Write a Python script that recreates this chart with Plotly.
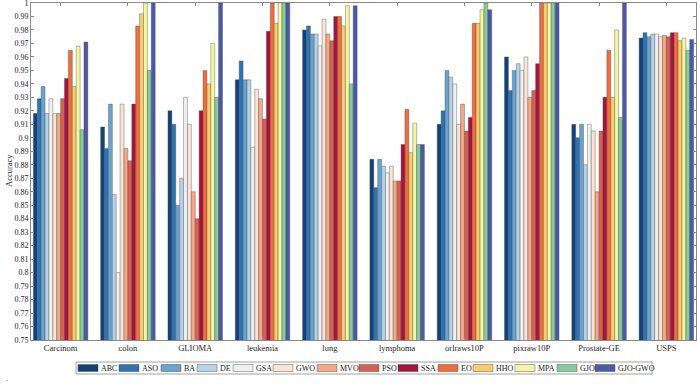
import plotly.graph_objects as go

categories = ["Carcinom", "colon", "GLIOMA", "leukemia", "lung", "lymphoma",
              "orlraws10P", "pixraw10P", "Prostate-GE", "USPS"]
methods = ["ABC", "ASO", "BA", "DE", "GSA", "GWO", "MVO", "PSO", "SSA",
           "EO", "HHO", "MPA", "GJO", "GJO-GWO"]

carcinom = [0.918, 0.929, 0.938, 0.918, 0.929, 0.918, 0.918, 0.929, 0.944, 0.965, 0.938, 0.968, 0.906, 0.971]
colon = [0.908, 0.892, 0.925, 0.858, 0.800, 0.925, 0.892, 0.883, 0.925, 0.983, 0.992, 1.0, 0.950, 1.0]
glioma = [0.920, 0.910, 0.850, 0.870, 0.930, 0.910, 0.860, 0.840, 0.920, 0.950, 0.940, 0.970, 0.930, 1.0]
leukemia = [0.943, 0.957, 0.943, 0.943, 0.893, 0.936, 0.929, 0.914, 0.979, 1.0, 0.985, 1.0, 1.0, 1.0]
lung = [0.980, 0.983, 0.977, 0.977, 0.968, 0.988, 0.977, 0.972, 0.990, 0.990, 0.983, 0.998, 0.940, 0.998]
lymphoma = [0.884, 0.863, 0.884, 0.879, 0.874, 0.879, 0.868, 0.868, 0.895, 0.921, 0.889, 0.911, 0.895, 0.895]
orlraws10p = [0.910, 0.920, 0.950, 0.945, 0.940, 0.910, 0.925, 0.905, 0.915, 0.985, 0.985, 0.995, 1.0, 0.995]
pixraw10p = [0.960, 0.935, 0.950, 0.955, 0.950, 0.960, 0.930, 0.935, 0.955, 1.0, 1.0, 1.0, 1.0, 1.0]
prostate_ge = [0.910, 0.900, 0.910, 0.880, 0.910, 0.905, 0.860, 0.905, 0.930, 0.965, 0.930, 0.980, 0.915, 1.0]
usps = [0.974, 0.978, 0.975, 0.977, 0.977, 0.975, 0.976, 0.975, 0.978, 0.978, 0.972, 0.974, 0.965, 0.973]

dataset_values = [carcinom, colon, glioma, leukemia, lung, lymphoma,
                  orlraws10p, pixraw10p, prostate_ge, usps]

y_ticks = [round(0.75 + 0.01 * i, 2) for i in range(26)]
y_tick_labels = [f"{v:g}" for v in y_ticks]

colors = ["#12427a", "#2e74b5", "#6aa3cf", "#b4d3e9", "#eef0f2", "#fbe3d5",
          "#f4a886", "#d8624f", "#a8133c", "#f26d3d", "#fdcb6b", "#f3f7a3",
          "#86cc9b", "#4b5aa6"]

FONT = "Liberation Serif"
W, H = 697, 386
ML, MR, MT, MB = 31, 1, 3, 46

x_pos = list(range(1, len(categories) + 1))

fig = go.Figure()
for j, m in enumerate(methods):
    fig.add_trace(go.Bar(
        x=x_pos,
        y=[dataset_values[i][j] for i in range(len(categories))],
        name=m,
        marker=dict(color=colors[j], line=dict(color="rgba(70,70,70,0.75)", width=0.5)),
        showlegend=False,
        cliponaxis=True,
    ))

pw = W - ML - MR
ph = H - MT - MB
def px2x(px):
    return (px - ML) / pw
def py2y(py):
    return (H - MB - py) / ph

# manual MATLAB-style legend below the axes
legend_x = [78, 119, 161, 197, 233, 273, 317, 359, 398, 438, 473, 515, 557, 595]
legend_yc = 368
shapes = [dict(type="rect", xref="paper", yref="paper",
               x0=px2x(76), x1=px2x(652), y0=py2y(374), y1=py2y(362),
               line=dict(color="#8a8a8a", width=0.8), fillcolor="white")]
annotations = []
for j, m in enumerate(methods):
    x0 = legend_x[j]
    shapes.append(dict(type="rect", xref="paper", yref="paper",
                       x0=px2x(x0), x1=px2x(x0 + 20),
                       y0=py2y(legend_yc + 3.5), y1=py2y(legend_yc - 3.5),
                       line=dict(color="rgba(60,60,60,0.8)", width=0.5),
                       fillcolor=colors[j]))
    annotations.append(dict(xref="paper", yref="paper", x=px2x(x0 + 21), y=py2y(legend_yc),
                            text=m, showarrow=False, xanchor="left", yanchor="middle",
                            font=dict(family=FONT, size=8, color="#222")))
annotations.append(dict(xref="paper", yref="paper", x=px2x(7), y=py2y(379),
                        text=".", showarrow=False, xanchor="center", yanchor="middle",
                        font=dict(family=FONT, size=8, color="#444")))
annotations.append(dict(xref="paper", yref="paper", x=px2x(9), y=py2y(171),
                        text="Accuracy", showarrow=False, textangle=-90,
                        xanchor="center", yanchor="middle",
                        font=dict(family=FONT, size=8.5, color="#262626")))

fig.update_layout(
    width=W, height=H,
    margin=dict(l=ML, r=MR, t=MT, b=MB, pad=0, autoexpand=False),
    paper_bgcolor="white", plot_bgcolor="white",
    barmode="group", bargap=0.19, bargroupgap=0,
    font=dict(family=FONT, size=8.5, color="#262626"),
    shapes=shapes, annotations=annotations,
    xaxis=dict(range=[0.56, 10.44], tickvals=x_pos, ticktext=categories,
               showline=True, mirror="ticks", linecolor="#8a8a8a", linewidth=0.8,
               ticks="inside", ticklen=3, tickcolor="#8a8a8a", showgrid=False,
               zeroline=False, automargin=False,
               tickfont=dict(family=FONT, size=8.5, color="#262626")),
    yaxis=dict(range=[0.75, 1.0], tickvals=y_ticks, ticktext=y_tick_labels,
               showline=True, mirror="ticks", linecolor="#8a8a8a", linewidth=0.8,
               ticks="inside", ticklen=3, tickcolor="#8a8a8a", showgrid=False,
               zeroline=False, automargin=False, ticklabeloverflow="allow",
               tickfont=dict(family=FONT, size=8, color="#262626")),
)

fig.write_html("out.html",
               config={"displayModeBar": False},
               post_script="document.body.style.margin='0';document.body.style.overflow='hidden';")
